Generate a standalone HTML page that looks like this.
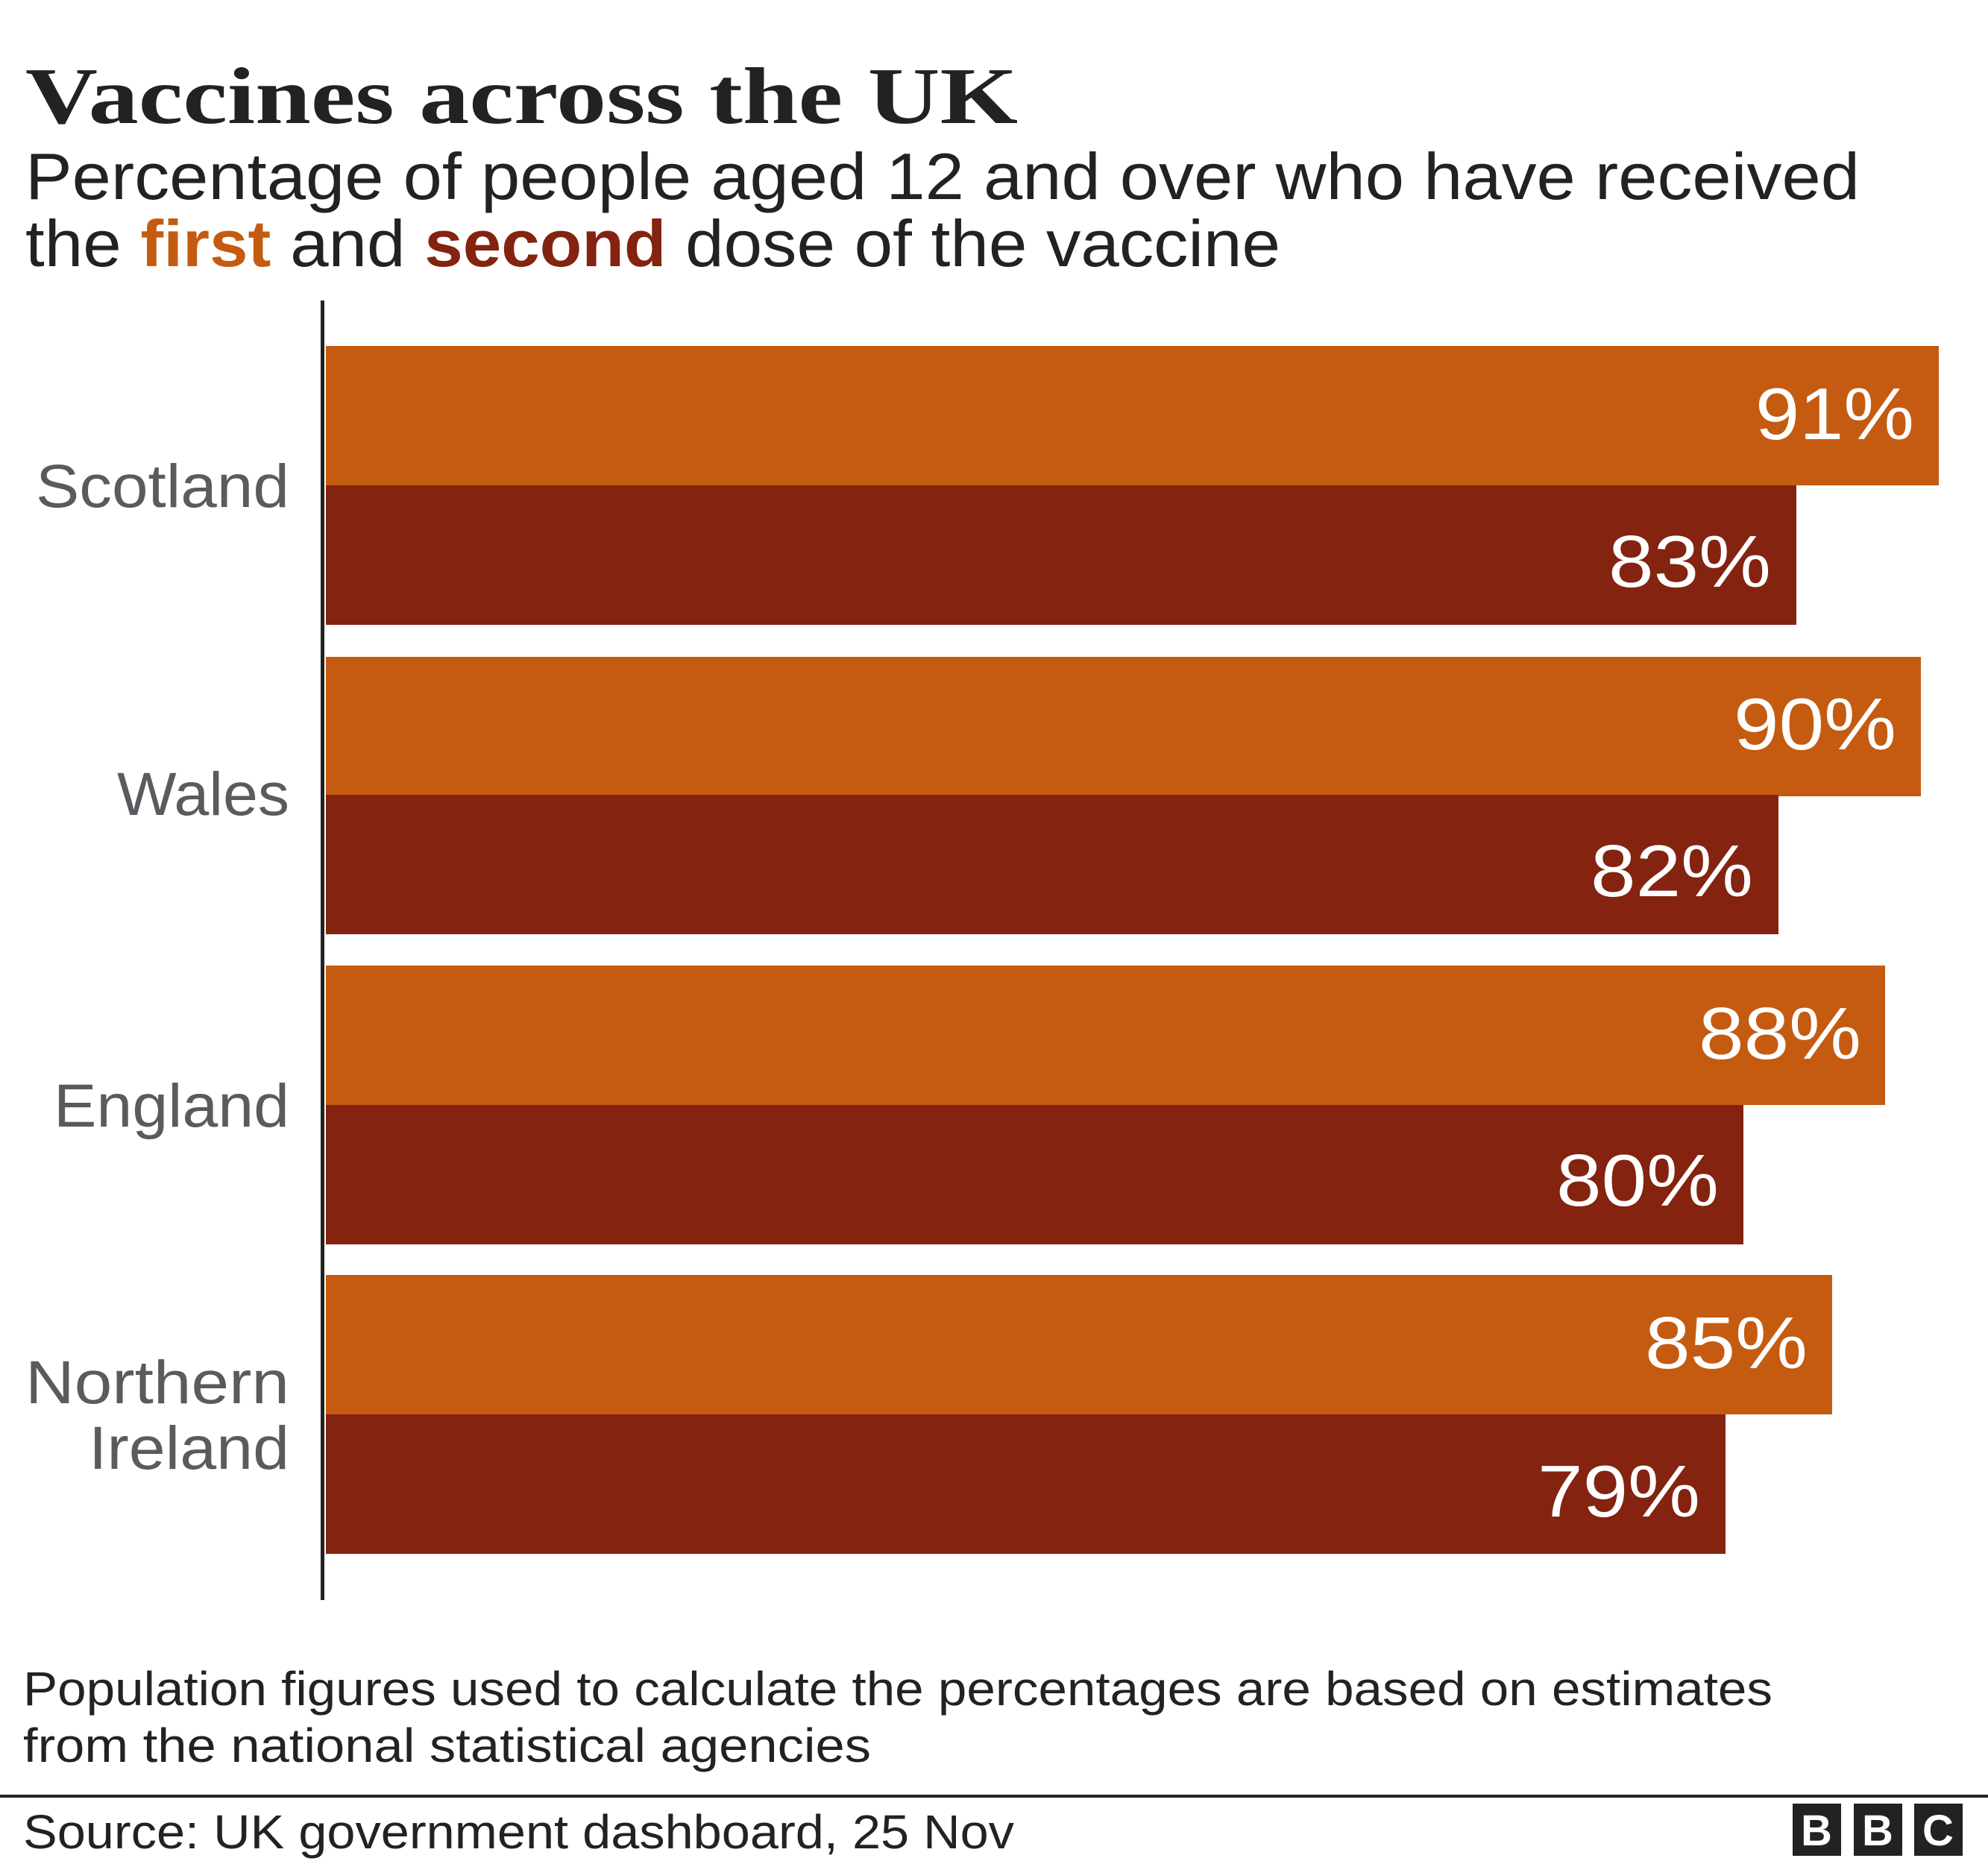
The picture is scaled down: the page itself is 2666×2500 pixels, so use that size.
<!DOCTYPE html>
<html><head><meta charset="utf-8"><style>
html,body{margin:0;padding:0;background:#fff;}
svg{display:block;}
</style></head><body>
<svg width="2666" height="2500" viewBox="0 0 2666 2500" xmlns="http://www.w3.org/2000/svg">
<rect width="2666" height="2500" fill="#fff"/>
<g font-family="Liberation Sans, sans-serif">
<text x="34" y="165" font-family="Liberation Serif, serif" font-weight="bold" font-size="108" fill="#222" textLength="1331" lengthAdjust="spacingAndGlyphs">Vaccines across the UK</text>
<text x="34" y="267" font-size="88" fill="#222" textLength="2460" lengthAdjust="spacingAndGlyphs">Percentage of people aged 12 and over who have received</text>
<text x="34" y="357" font-size="88" fill="#222" textLength="1683" lengthAdjust="spacingAndGlyphs">the <tspan fill="#c45b10" font-weight="bold">first</tspan> and <tspan fill="#832310" font-weight="bold">second</tspan> dose of the vaccine</text>

<rect x="437" y="464" width="2163" height="187" fill="#c45b10"/>
<rect x="437" y="651" width="1972" height="187" fill="#832310"/>
<rect x="437" y="881" width="2139" height="187" fill="#c45b10"/>
<rect x="437" y="1066" width="1948" height="187" fill="#832310"/>
<rect x="437" y="1295" width="2091" height="187" fill="#c45b10"/>
<rect x="437" y="1482" width="1901" height="187" fill="#832310"/>
<rect x="437" y="1710" width="2020" height="187" fill="#c45b10"/>
<rect x="437" y="1897" width="1877" height="187" fill="#832310"/>
<rect x="430" y="403" width="5" height="1743" fill="#222"/>

<g fill="#fff" font-size="98" text-anchor="end">
<text x="2567" y="589" textLength="213" lengthAdjust="spacingAndGlyphs">91%</text>
<text x="2375" y="787" textLength="218" lengthAdjust="spacingAndGlyphs">83%</text>
<text x="2543" y="1005" textLength="218" lengthAdjust="spacingAndGlyphs">90%</text>
<text x="2351" y="1202" textLength="218" lengthAdjust="spacingAndGlyphs">82%</text>
<text x="2496" y="1420" textLength="218" lengthAdjust="spacingAndGlyphs">88%</text>
<text x="2305" y="1617" textLength="218" lengthAdjust="spacingAndGlyphs">80%</text>
<text x="2424" y="1835" textLength="218" lengthAdjust="spacingAndGlyphs">85%</text>
<text x="2280" y="2034" textLength="218" lengthAdjust="spacingAndGlyphs">79%</text>
</g>
<g fill="#5a5a5f" font-size="82">
<text x="48" y="680" textLength="340" lengthAdjust="spacingAndGlyphs">Scotland</text>
<text x="157" y="1093" textLength="231" lengthAdjust="spacingAndGlyphs">Wales</text>
<text x="72" y="1511" textLength="316" lengthAdjust="spacingAndGlyphs">England</text>
<text x="34" y="1882" textLength="354" lengthAdjust="spacingAndGlyphs">Northern</text>
<text x="119" y="1970" textLength="269" lengthAdjust="spacingAndGlyphs">Ireland</text>
</g>
<text x="31" y="2287" font-size="64" fill="#222" textLength="2346" lengthAdjust="spacingAndGlyphs">Population figures used to calculate the percentages are based on estimates</text>
<text x="31" y="2363" font-size="64" fill="#222" textLength="1137" lengthAdjust="spacingAndGlyphs">from the national statistical agencies</text>
<rect x="0" y="2407" width="2666" height="4" fill="#222"/>
<text x="31" y="2479" font-size="64" fill="#222" textLength="1329" lengthAdjust="spacingAndGlyphs">Source: UK government dashboard, 25 Nov</text>
<g>
<rect x="2404" y="2419" width="65" height="70" fill="#222"/>
<rect x="2486" y="2419" width="65" height="70" fill="#222"/>
<rect x="2567" y="2419" width="65" height="70" fill="#222"/>
<g fill="#fff" font-size="58" font-weight="bold" text-anchor="middle">
<text x="2436" y="2475">B</text>
<text x="2518" y="2475">B</text>
<text x="2599" y="2475">C</text>
</g>
</g>
</g>
</svg>
</body></html>
